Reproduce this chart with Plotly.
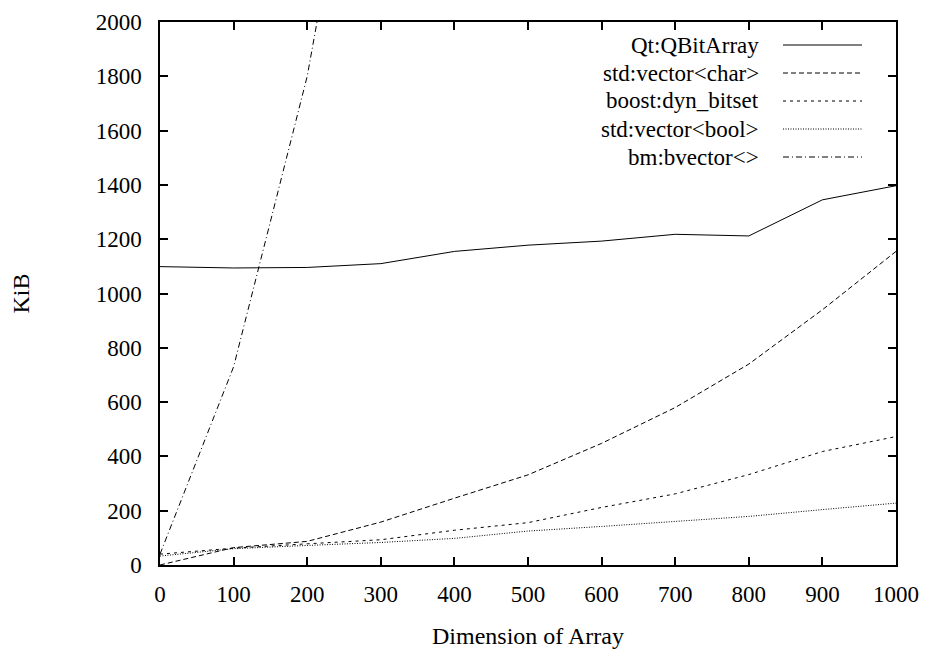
import plotly.graph_objects as go

x_vals = [0, 100, 200, 300, 400, 500, 600, 700, 800, 900, 1000]
qt_qbitarray = [1099, 1094, 1096, 1110, 1155, 1178, 1193, 1218, 1212, 1345, 1397]
std_vector_char = [0, 64, 87, 158, 246, 332, 448, 580, 740, 940, 1155]
boost_dyn_bitset = [40, 62, 78, 93, 128, 156, 212, 262, 333, 418, 473]
std_vector_bool = [33, 60, 72, 83, 98, 125, 142, 161, 179, 204, 228]
bm_x = [0, 100, 200, 300]
bm_bvector = [40, 730, 1800, 3300]

names = ["Qt:QBitArray", "std:vector<char>", "boost:dyn_bitset", "std:vector<bool>", "bm:bvector<>"]
name_labels = ["Qt:QBitArray", "std:vector&lt;char&gt;", "boost:dyn_bitset", "std:vector&lt;bool&gt;", "bm:bvector&lt;&gt;"]
dashes = ["solid", "5px,3px", "3px,4px", "1px,1.5px", "6px,3px,1px,3px"]
series = [(x_vals, qt_qbitarray), (x_vals, std_vector_char), (x_vals, boost_dyn_bitset),
          (x_vals, std_vector_bool), (bm_x, bm_bvector)]

FONT = "Liberation Serif"
FS = 23
fig = go.Figure()
for (xs, ys), nm, d in zip(series, names, dashes):
    fig.add_trace(go.Scatter(x=xs, y=ys, mode="lines", name=nm,
                             line=dict(color="black", width=1, dash=d),
                             showlegend=False))

L, R, T, B = 160, 33, 22, 87
W, H = 929, 652
pw = W - L - R
ph = H - T - B

# manual legend (text on the left, sample on the right, gnuplot style)
row_y = [45, 73, 101, 129, 157]
shapes = []
annotations = []
for lab, d, yp in zip(name_labels, dashes, row_y):
    yf = 1 - (yp - T) / ph
    annotations.append(dict(x=(760 - L) / pw, y=yf, xref="paper", yref="paper",
                            text=lab, showarrow=False, xanchor="right", yanchor="middle",
                            align="right", borderpad=0,
                            font=dict(family=FONT, size=FS)))
    shapes.append(dict(type="line", xref="paper", yref="paper",
                       x0=(783 - L) / pw, x1=(862 - L) / pw, y0=yf, y1=yf,
                       line=dict(color="black", width=1, dash=d)))

annotations.append(dict(x=0.5, y=-(636 - T - ph) / ph, xref="paper", yref="paper",
                        text="Dimension of Array", showarrow=False,
                        xanchor="center", yanchor="middle",
                        font=dict(family=FONT, size=24)))
annotations.append(dict(x=-(L - 20) / pw, y=0.5, xref="paper", yref="paper",
                        text="KiB", showarrow=False, textangle=-90,
                        xanchor="center", yanchor="middle",
                        font=dict(family=FONT, size=24)))

axis_common = dict(showgrid=False, zeroline=False, showline=True, mirror="allticks",
                   linecolor="black", linewidth=1.5, ticks="inside", ticklen=8,
                   tickcolor="black", tickwidth=1.5,
                   tickfont=dict(family=FONT, size=FS))

fig.update_layout(
    template="none",
    width=W, height=H,
    margin=dict(l=L, r=R, t=T, b=B),
    plot_bgcolor="white", paper_bgcolor="white",
    font=dict(family=FONT, color="black", size=FS),
    xaxis=dict(range=[0, 1000], tickmode="array", tickvals=x_vals,
               ticklabelstandoff=8, **axis_common),
    yaxis=dict(range=[0, 2000], tickmode="array",
               tickvals=list(range(0, 2001, 200)),
               ticklabelstandoff=12, **axis_common),
    shapes=shapes, annotations=annotations,
)
post = (
    "document.body.style.margin='0px';"
    "var st=document.createElement('style');"
    "st.textContent=\"svg text, svg tspan {font-family: 'Liberation Serif', 'Times New Roman', serif !important;}\";"
    "document.head.appendChild(st);"
)
fig.write_html("out.html", config={"displayModeBar": False}, post_script=post)
